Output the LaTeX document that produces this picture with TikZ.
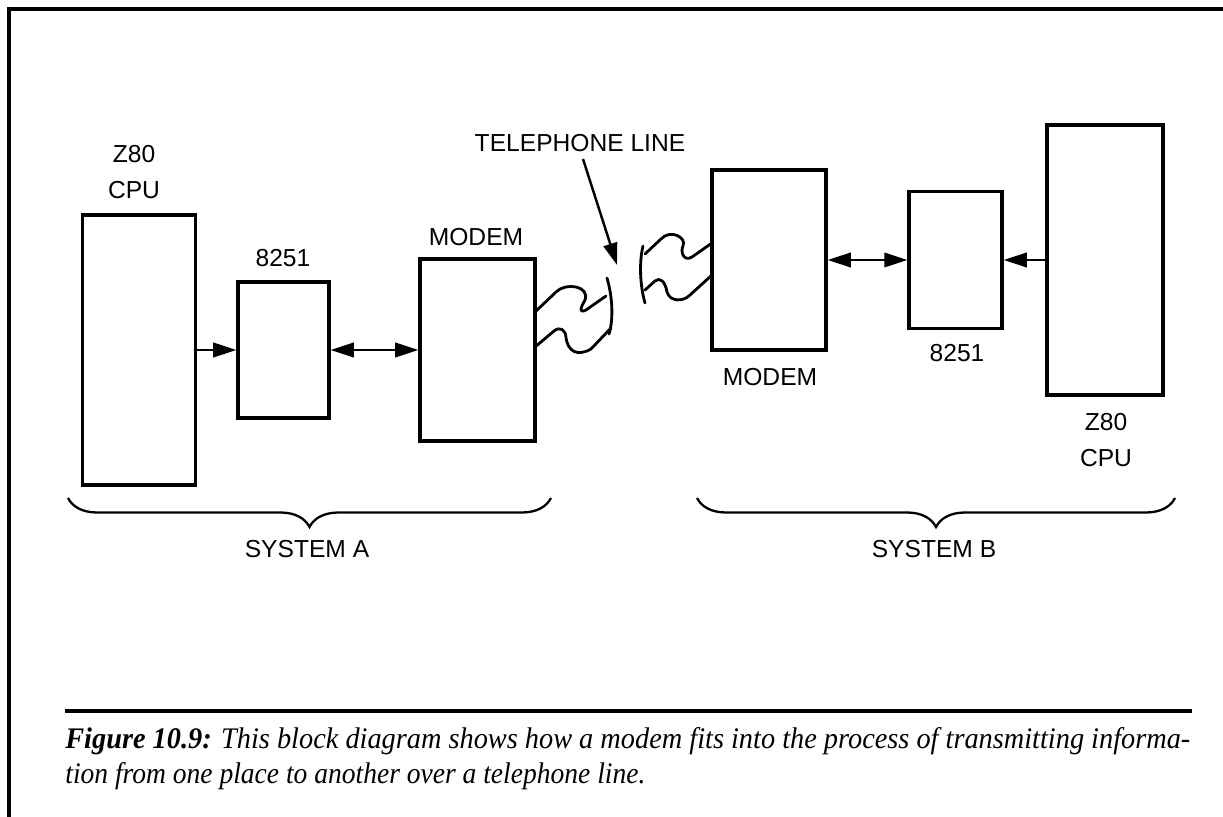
\documentclass[tikz,border=0pt]{standalone}
\usepackage{fontspec}
\setmainfont{Liberation Sans}
\newfontfamily\captionserif{Liberation Serif}
\usetikzlibrary{arrows.meta, decorations.pathreplacing}

\begin{document}
\begin{tikzpicture}[x=0.2mm, y=-0.2mm,
    chip/.style={draw, line width=2pt, inner sep=0pt},
    tag/.style={font=\fontsize{14}{21}\selectfont, inner sep=0pt, align=center},
    link/.style={line width=1.3pt, -{Triangle[length=4.6mm, width=2.9mm]}},
    duplex/.style={line width=1.3pt, {Triangle[length=4.6mm, width=2.9mm]}-{Triangle[length=4.6mm, width=2.9mm]}},
    pointer/.style={line width=1.4pt, -{Triangle[length=4.4mm, width=2.8mm]}},
    wire/.style={line width=1.6pt, line cap=round, line join=round},
    frame/.style={line width=1.8pt},
    span/.style={line width=1.3pt, decorate, decoration={brace, mirror, amplitude=5.8mm}}]
  \useasboundingbox (0,0) rectangle (1223,817);
  % A block: #1 = name, #2 = centre, #3 = width, #4 = height.
  \newcommand{\chipbox}[4]{%
    \node[chip, minimum width=#3, minimum height=#4] (#1) at (#2) {};}

  % page frame and caption rule
  \draw[frame] (1223,9) -- (9,9) -- (9,817);
  \draw[frame] (65,711) -- (1192,711);

  % system A
  \chipbox{cpuA}{139,350}{22.6mm}{54mm}
  \chipbox{uartA}{283.5,350}{18.2mm}{27.2mm}
  \chipbox{modemA}{477.5,350}{23mm}{36.4mm}
  \node[tag] (cpuAtag) at (134,172) {Z80\\CPU};
  \node[tag] (uartAtag) at (283,258) {8251};
  \node[tag] (modemAtag) at (476,237) {MODEM};
  \draw[link] (cpuA.east) -- (uartA.west);
  \draw[duplex] (uartA.east) -- (modemA.west);

  % system B
  \chipbox{modemB}{769,260}{22.8mm}{36mm}
  \chipbox{uartB}{955.5,260}{18.6mm}{27.4mm}
  \chipbox{cpuB}{1105,260}{23.2mm}{54mm}
  \node[tag] (modemBtag) at (770,377) {MODEM};
  \node[tag] (uartBtag) at (957,353) {8251};
  \node[tag] (cpuBtag) at (1106,440) {Z80\\CPU};
  \draw[duplex] (modemB.east) -- (uartB.west);
  \draw[link] (cpuB.west) -- (uartB.east);

  % telephone line: the two broken wire ends
  \draw[wire] (535,312) -- (556,292) .. controls (566,282) and (590,286) .. (585,300)
    .. controls (581,307) and (578,314) .. (586,310) -- (606,296);
  \draw[wire] (535,347) -- (554,331) .. controls (560,326) and (566,330) .. (566,338)
    .. controls (568,351) and (577,357) .. (591,349) -- (611,328);
  \draw[wire] (607,278) .. controls (612,295) and (614,318) .. (609,334);
  \draw[wire] (712,243) -- (692,257) .. controls (684,262) and (680,252) .. (683,246)
    .. controls (687,237) and (670,229) .. (661,239) -- (645,254);
  \draw[wire] (712,275) -- (690,295) .. controls (683,302) and (670,302) .. (667,292)
    .. controls (665,281) and (660,277) .. (655,281) -- (645,290);
  \draw[wire] (643,246) .. controls (639,262) and (640,286) .. (645,303);
  \node[tag] (tel) at (580,143) {TELEPHONE LINE};
  \coordinate (telTip) at (617,265);
  \draw[pointer] ([xshift=0.6mm, yshift=-1.4mm]tel.south) -- (telTip);

  % braces
  \draw[span] (68,498) -- (551,498);
  \draw[span] (697,498) -- (1175,498);
  \node[tag] (sysA) at (307,549) {SYSTEM A};
  \node[tag] (sysB) at (934,549) {SYSTEM B};

  % caption
  \node[anchor=west, inner sep=0pt] (capA) at (65,741)
    {\resizebox{22.5cm}{\height}{\captionserif\fontsize{17}{20}\selectfont\itshape
     \textbf{Figure 10.9:} This block diagram shows how a modem fits into the process of transmitting informa-}};
  \node[anchor=west, inner sep=0pt] (capB) at (65,776)
    {\resizebox{11.6cm}{\height}{\captionserif\fontsize{17}{20}\selectfont\itshape
     tion from one place to another over a telephone line.}};
\end{tikzpicture}
\end{document}
